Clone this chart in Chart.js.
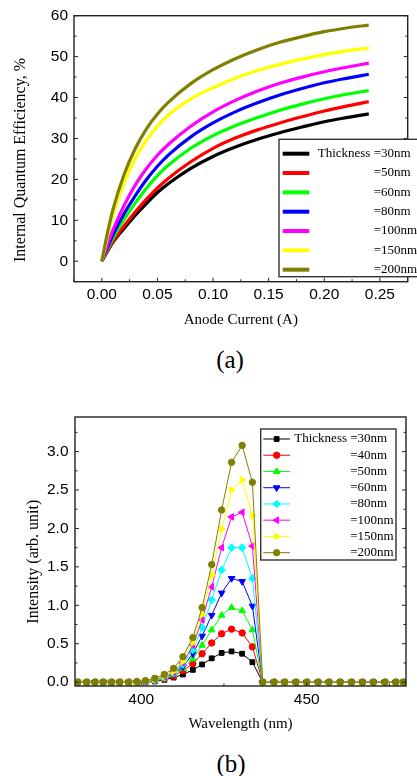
<!DOCTYPE html>
<html>
<head>
<meta charset="utf-8">
<title>IQE and EL spectra vs thickness</title>
<script src="https://cdn.jsdelivr.net/npm/chart.js@4.4.1/dist/chart.umd.min.js"></script>
<style>
  body { margin: 0; background: #fff; }
  #page { position: relative; width: 417px; height: 776px; overflow: hidden; }
  canvas { position: absolute; left: 0; }
  #chartA { top: 0; }
  #chartB { top: 400px; }
  .tag { position: absolute; width: 60px; text-align: center; line-height: 30px;
         font: 25px "Liberation Serif", "Times New Roman", serif; color: #000; }
</style>
</head>
<body>
<div id="page">
  <canvas id="chartA" width="417" height="345"></canvas>
  <div class="tag" style="left:200px; top:346px">(a)</div>
  <canvas id="chartB" width="417" height="345"></canvas>
  <div class="tag" style="left:201px; top:750px">(b)</div>
</div>
<script>
// (a) internal quantum efficiency vs anode current
const currentA = [0, 0.005, 0.01, 0.02, 0.03, 0.04, 0.05, 0.06, 0.08, 0.10, 0.12, 0.14, 0.16, 0.18, 0.20, 0.22, 0.24];
const iqe30  = [0, 2.4, 4.6, 8.0, 11.2, 14.1, 16.8, 19.0, 22.7, 25.6, 27.9, 29.8, 31.4, 32.8, 34.1, 35.1, 36.0];
const iqe50  = [0, 2.5, 4.8, 8.6, 12.0, 15.1, 17.9, 20.3, 24.3, 27.6, 30.1, 32.1, 33.8, 35.3, 36.7, 37.9, 39.0];
const iqe60  = [0, 2.9, 5.6, 10.2, 14.2, 17.8, 20.9, 23.5, 27.6, 30.7, 33.1, 35.1, 36.9, 38.4, 39.7, 40.8, 41.7];
const iqe80  = [0, 3.3, 6.4, 11.6, 16.0, 19.9, 23.2, 26.0, 30.4, 33.8, 36.5, 38.7, 40.6, 42.2, 43.6, 44.7, 45.7];
const iqe100 = [0, 4.0, 7.6, 13.6, 18.6, 22.6, 25.9, 28.6, 33.0, 36.5, 39.3, 41.6, 43.5, 45.0, 46.3, 47.4, 48.4];
const iqe150 = [0, 6.0, 11.3, 19.2, 25.1, 29.5, 33.0, 35.8, 39.7, 42.4, 44.7, 46.6, 48.1, 49.4, 50.5, 51.4, 52.1];
const iqe200 = [0, 6.8, 12.6, 21.2, 27.5, 32.3, 36.0, 38.9, 43.4, 46.8, 49.5, 51.7, 53.5, 54.9, 56.1, 57.0, 57.7];
const thickA = [30, 50, 60, 80, 100, 150, 200];
const colorA = ['#000000', '#ff0000', '#00ff00', '#0000ff', '#ff00ff', '#ffff00', '#808000'];
const xTicksA = [0, 0.05, 0.10, 0.15, 0.20, 0.25];
const yTicksA = [0, 10, 20, 30, 40, 50, 60];

// (b) emission spectra
const wavelength = [380.8, 383.5, 386.0, 388.5, 391.0, 393.5, 396.2, 398.7, 401.3, 404.1, 407.0, 409.8,
  412.6, 415.6, 418.4, 421.3, 424.3, 427.3, 430.5, 433.6, 436.7, 440.1, 443.3, 446.7, 450.0, 453.4,
  456.7, 460.1, 463.5, 466.8, 470.1, 473.6, 476.9, 479.2];
const int30  = [0, 0, 0, 0, 0, 0, 0, 0, 0.00, 0.01, 0.03, 0.06, 0.10, 0.16, 0.23, 0.31, 0.38, 0.40, 0.37, 0.26,
  0, 0, 0, 0, 0, 0, 0, 0, 0, 0, 0, 0, 0, 0];
const int40  = [0, 0, 0, 0, 0, 0, 0, 0, 0.01, 0.02, 0.04, 0.08, 0.15, 0.24, 0.37, 0.51, 0.63, 0.69, 0.64, 0.46,
  0, 0, 0, 0, 0, 0, 0, 0, 0, 0, 0, 0, 0, 0];
const int50  = [0, 0, 0, 0, 0, 0, 0, 0, 0.01, 0.02, 0.05, 0.10, 0.18, 0.30, 0.48, 0.68, 0.87, 0.97, 0.93, 0.68,
  0, 0, 0, 0, 0, 0, 0, 0, 0, 0, 0, 0, 0, 0];
const int60  = [0, 0, 0, 0, 0, 0, 0, 0, 0.01, 0.03, 0.06, 0.11, 0.20, 0.37, 0.60, 0.87, 1.16, 1.35, 1.31, 0.99,
  0, 0, 0, 0, 0, 0, 0, 0, 0, 0, 0, 0, 0, 0];
const int80  = [0, 0, 0, 0, 0, 0, 0, 0, 0.01, 0.03, 0.06, 0.12, 0.23, 0.42, 0.71, 1.07, 1.46, 1.75, 1.75, 1.35,
  0, 0, 0, 0, 0, 0, 0, 0, 0, 0, 0, 0, 0, 0];
const int100 = [0, 0, 0, 0, 0, 0, 0, 0, 0.01, 0.04, 0.07, 0.13, 0.25, 0.48, 0.81, 1.24, 1.75, 2.15, 2.21, 1.77,
  0, 0, 0, 0, 0, 0, 0, 0, 0, 0, 0, 0, 0, 0];
const int150 = [0, 0, 0, 0, 0, 0, 0, 0, 0.02, 0.04, 0.08, 0.14, 0.27, 0.51, 0.88, 1.39, 1.99, 2.50, 2.63, 2.17,
  0, 0, 0, 0, 0, 0, 0, 0, 0, 0, 0, 0, 0, 0];
const int200 = [0, 0, 0, 0, 0, 0, 0, 0.01, 0.02, 0.05, 0.10, 0.18, 0.33, 0.58, 0.97, 1.53, 2.24, 2.86, 3.08, 2.60,
  0, 0, 0, 0, 0, 0, 0, 0, 0, 0, 0, 0, 0, 0];
const thickB = [30, 40, 50, 60, 80, 100, 150, 200];
const colorB = ['#000000', '#ff0000', '#00ff00', '#0000ff', '#00ffff', '#ff00ff', '#ffff00', '#808000'];
const markerB = ['rect', 'circle', 'triangle', 'triangle', 'rectRot', 'triangle', 'triangle', 'circle'];
const turnB = [0, 0, 0, 180, 0, -90, 90, 0];
const sizeB = [3.4, 3.2, 3.8, 3.8, 3.8, 3.8, 3.8, 3.2];
const xTicksB = [400, 450];
const yTicksB = [0, 0.5, 1.0, 1.5, 2.0, 2.5, 3.0];

const SANS = '"Liberation Sans", Arial, sans-serif';
const SERIF = '"Liberation Serif", "Times New Roman", serif';
Chart.defaults.font.family = SANS;
Chart.defaults.color = '#000';

// half-step ticks between the labelled ones
function minorsFor(majors, min, max) {
  const half = (majors[1] - majors[0]) / 2;
  const out = [];
  let v = majors[0] - half * Math.floor((majors[0] - min) / half + 1e-9);
  for (; v <= max + 1e-9; v += half) {
    if (!majors.some(m => Math.abs(m - v) < half * 1e-3)) out.push(v);
  }
  return out;
}

// box around the plot with inward ticks on bottom, left and right
const frame = {
  id: 'frame',
  afterDatasetsDraw(chart, args, o) {
    const { ctx, chartArea: a } = chart;
    const x = chart.scales.x, y = chart.scales.y;
    const xs = [[o.xMajor, 4], [minorsFor(o.xMajor, x.min, x.max), 2.5]];
    const ys = [[o.yMajor, 4], [minorsFor(o.yMajor, y.min, y.max), 2.5]];
    ctx.save();
    ctx.strokeStyle = '#222';
    ctx.lineWidth = 1;
    ctx.beginPath();
    xs.forEach(([vals, len]) => vals.forEach(v => {
      if (v < x.min || v > x.max) return;
      const px = x.getPixelForValue(v);
      ctx.moveTo(px, a.bottom);
      ctx.lineTo(px, a.bottom - len);
    }));
    ys.forEach(([vals, len]) => vals.forEach(v => {
      if (v < y.min || v > y.max) return;
      const py = y.getPixelForValue(v);
      ctx.moveTo(a.left, py);
      ctx.lineTo(a.left + len, py);
      ctx.moveTo(a.right, py);
      ctx.lineTo(a.right - len, py);
    }));
    ctx.stroke();
    ctx.lineWidth = 1.4;
    ctx.strokeRect(a.left, a.top, a.right - a.left, a.bottom - a.top);
    ctx.restore();
  }
};

// legend box drawn inside the plot
const keyBox = {
  id: 'keyBox',
  afterDraw(chart, args, o) {
    const ctx = chart.ctx;
    ctx.save();
    ctx.fillStyle = '#fff';
    ctx.fillRect(o.left, o.top, o.width, o.height);
    ctx.strokeStyle = '#333';
    ctx.lineWidth = 1.4;
    ctx.strokeRect(o.left, o.top, o.width, o.height);
    ctx.font = '13px ' + SERIF;
    ctx.textBaseline = 'middle';
    const pre = 'Thickness ';
    const col = o.textX + ctx.measureText(pre).width;
    chart.data.datasets.forEach((ds, i) => {
      const cy = o.rowY0 + i * o.rowGap;
      ctx.strokeStyle = ds.borderColor;
      ctx.lineWidth = o.lineWidth;
      ctx.beginPath();
      ctx.moveTo(o.lineX0, cy);
      ctx.lineTo(o.lineX1, cy);
      ctx.stroke();
      if (o.markers) {
        ctx.fillStyle = ds.pointBackgroundColor;
        ctx.lineWidth = 1;
        Chart.helpers.drawPoint(ctx, {
          pointStyle: ds.pointStyle, rotation: ds.pointRotation,
          radius: ds.pointRadius, borderWidth: 1
        }, (o.lineX0 + o.lineX1) / 2, cy);
      }
      ctx.fillStyle = '#000';
      if (i === 0) ctx.fillText(pre, o.textX, cy);
      ctx.fillText(ds.label, col, cy);
    });
    ctx.restore();
  }
};

// rotated y axis title
const sideTitle = {
  id: 'sideTitle',
  afterDraw(chart, args, o) {
    const ctx = chart.ctx;
    ctx.save();
    ctx.translate(o.x, o.y);
    ctx.rotate(-Math.PI / 2);
    ctx.font = o.font;
    ctx.fillStyle = '#000';
    ctx.textAlign = 'center';
    ctx.textBaseline = 'middle';
    ctx.fillText(o.text, 0, 0);
    ctx.restore();
  }
};

function setTicks(list) {
  return scale => { scale.ticks = list.map(v => ({ value: v })); };
}

const seriesA = [iqe30, iqe50, iqe60, iqe80, iqe100, iqe150, iqe200];
new Chart(document.getElementById('chartA'), {
  type: 'line',
  data: {
    datasets: seriesA.map((vals, i) => ({
      label: '=' + thickA[i] + 'nm',
      data: currentA.map((c, j) => ({ x: c, y: vals[j] })),
      borderColor: colorA[i],
      borderWidth: 3.2,
      pointRadius: 0,
      cubicInterpolationMode: 'monotone',
      order: seriesA.length - 1 - i
    }))
  },
  options: {
    responsive: false,
    animation: false,
    layout: { padding: { top: 15.7, right: 9.3, bottom: 16, left: 0 } },
    scales: {
      x: {
        type: 'linear', min: -0.025, max: 0.275,
        afterBuildTicks: setTicks(xTicksA),
        afterFit: s => { s.height = 47.3; },
        grid: { display: false, drawTicks: false },
        border: { display: false },
        ticks: { padding: 4, font: { size: 15.5 }, maxRotation: 0, autoSkip: false,
                 callback: v => v.toFixed(2) },
        title: { display: true, text: 'Anode Current (A)', padding: 0,
                 font: { family: SERIF, size: 15 } }
      },
      y: {
        type: 'linear', min: -5, max: 60,
        afterBuildTicks: setTicks(yTicksA),
        afterFit: s => { s.width = 74; },
        grid: { display: false, drawTicks: false },
        border: { display: false },
        ticks: { padding: 6, font: { size: 15.5 }, callback: v => String(v) }
      }
    },
    plugins: {
      legend: { display: false },
      tooltip: { enabled: false },
      frame: { xMajor: xTicksA, yMajor: yTicksA },
      keyBox: { left: 279, top: 139.3, width: 160, height: 137.4, lineX0: 282.7, lineX1: 309.3,
                lineWidth: 4, textX: 317.7, rowY0: 153.7, rowGap: 19.33, markers: false },
      sideTitle: { text: 'Internal Quantum Efficiency, %', x: 20.5, y: 160, font: '16px ' + SERIF }
    }
  },
  plugins: [frame, keyBox, sideTitle]
});

const seriesB = [int30, int40, int50, int60, int80, int100, int150, int200];
new Chart(document.getElementById('chartB'), {
  type: 'line',
  data: {
    datasets: seriesB.map((vals, i) => ({
      label: '=' + thickB[i] + 'nm',
      data: wavelength.map((w, j) => ({ x: w, y: vals[j] })),
      borderColor: colorB[i],
      backgroundColor: colorB[i],
      pointBackgroundColor: colorB[i],
      pointBorderColor: colorB[i],
      borderWidth: 1,
      pointStyle: markerB[i],
      pointRotation: turnB[i],
      pointRadius: sizeB[i],
      pointBorderWidth: 1,
      tension: 0,
      order: seriesB.length - 1 - i
    }))
  },
  options: {
    responsive: false,
    animation: false,
    layout: { padding: { top: 17, right: 11, bottom: 12, left: 0 } },
    scales: {
      x: {
        type: 'linear', min: 380, max: 480,
        afterBuildTicks: setTicks(xTicksB),
        afterFit: s => { s.height = 47; },
        grid: { display: false, drawTicks: false },
        border: { display: false },
        ticks: { padding: 4, font: { size: 15.5 }, maxRotation: 0, autoSkip: false,
                 callback: v => String(v) },
        title: { display: true, text: 'Wavelength (nm)', padding: 0,
                 font: { family: SERIF, size: 15 } }
      },
      y: {
        type: 'linear', min: -0.05, max: 3.45,
        afterBuildTicks: setTicks(yTicksB),
        afterFit: s => { s.width = 75; },
        grid: { display: false, drawTicks: false },
        border: { display: false },
        ticks: { padding: 6.5, font: { size: 15.5 }, callback: v => v.toFixed(1) }
      }
    },
    plugins: {
      legend: { display: false },
      tooltip: { enabled: false },
      frame: { xMajor: xTicksB, yMajor: yTicksB },
      keyBox: { left: 260.7, top: 29, width: 135.3, height: 131, lineX0: 263.3, lineX1: 290,
                lineWidth: 1, textX: 294.3, rowY0: 39, rowGap: 16.24, markers: true },
      sideTitle: { text: 'Intensity (arb. unit)', x: 33.7, y: 161.7, font: '16px ' + SERIF }
    }
  },
  plugins: [frame, keyBox, sideTitle]
});
</script>
</body>
</html>
